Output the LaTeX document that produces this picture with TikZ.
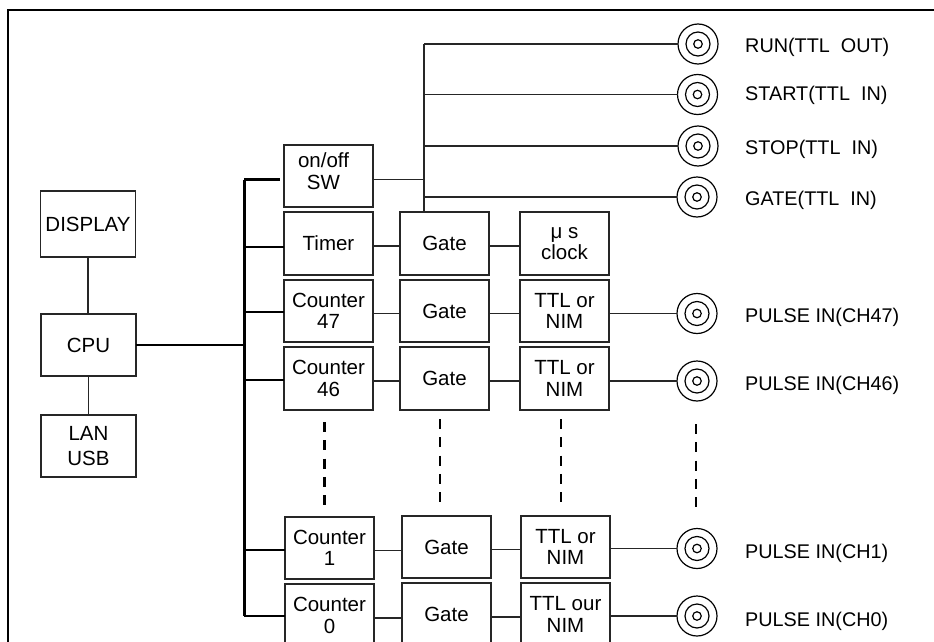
\documentclass[tikz,border=0pt]{standalone}
\usepackage{fontspec}
\setmainfont{Liberation Sans}
\usetikzlibrary{positioning, calc}
\tikzset{
  block/.style={
    rectangle,
    draw=black!85,
    line width=1.2pt,
    align=center,
    minimum width=89pt,
    minimum height=63pt,
    inner sep=0pt,
    outer sep=0pt,
    font=\fontsize{20.5}{21.5}\selectfont
  },
  hostblock/.style={block, minimum width=95pt},
  jackring/.style={circle, draw=black, line width=1.2pt, inner sep=0pt, outer sep=0pt},
  jack/.style={jackring, minimum size=40pt},
  portlabel/.style={anchor=west, inner sep=0pt, font=\fontsize{19.8}{22}\selectfont},
  wire/.style={draw=black!85, line width=1.4pt},
  busline/.style={draw=black, line width=2.6pt},
  gapline/.style={draw=black, line width=2.8pt, dash pattern=on 10pt off 8.3pt}
}

\begin{document}
\begin{tikzpicture}[x=1pt, y=-1pt]
  \useasboundingbox (0,0) rectangle (934,642);
  \clip (0,0) rectangle (934,642);

  % outer frame
  \coordinate (frameA) at (8,642);
  \coordinate (frameB) at (8,10);
  \coordinate (frameC) at (934,10);
  \draw[line width=2.4pt] (frameA) -- (frameB) -- (frameC);

  % host side
  \node[hostblock, minimum height=66pt] (display) at (88,224) {DISPLAY};
  \node[hostblock, minimum height=62pt] (cpu) at (88.5,345) {CPU};
  \node[hostblock, minimum height=62pt, below=39pt of cpu] (lan) {LAN\\[3pt]USB};

  % first row and the columns
  \node[block, minimum height=62pt] (onoff) at (328.5,176) {on/off\hspace*{10pt}\\SW\hspace*{10pt}\mbox{}\\[-12pt]};
  \node[block, below=5pt of onoff] (timer) {Timer};
  \node[block, minimum height=62pt, below=5pt of timer] (cnt47) {Counter\\47};
  \node[block, below=5pt of cnt47] (cnt46) {Counter\\46};
  \node[block, minimum height=62pt, below=107pt of cnt46, xshift=1pt] (cnt1) {Counter\\1};
  \node[block, below=5pt of cnt1] (cnt0) {Counter\\0};

  \node[block, right=27pt of timer] (gateT) {Gate};
  \node[block, minimum height=62pt, right=27pt of cnt47] (gate47) {Gate};
  \node[block, right=27pt of cnt46] (gate46) {Gate};
  \node[block, minimum height=62pt, right=28pt of cnt1, yshift=1pt] (gate1) {Gate};
  \node[block, right=28pt of cnt0, yshift=1pt] (gate0) {Gate};

  \node[block, right=31pt of gateT] (clock) {μ s\\clock};
  \node[block, minimum height=62pt, right=31pt of gate47] (ttl47) {TTL or\\NIM};
  \node[block, right=31pt of gate46] (ttl46) {TTL or\\NIM};
  \node[block, minimum height=62pt, right=30pt of gate1] (ttl1) {TTL or\\NIM};
  \node[block, right=30pt of gate0] (ttl0) {TTL our\\NIM};

  % connectors
  \node[jack] (jackRun) at (698,44) {};
  \node[jack] (jackStart) at (697.5,94.5) {};
  \node[jack] (jackStop) at (698,146) {};
  \node[jack] (jackGate) at (697,197) {};
  \node[jack] (jack47) at (697,313.5) {};
  \node[jack] (jack46) at (697,381) {};
  \node[jack] (jack1) at (697,548.5) {};
  \node[jack] (jack0) at (697,616) {};
  \foreach \j in {jackRun,jackStart,jackStop,jackGate,jack47,jack46,jack1,jack0} {
    \node[jackring, minimum size=24pt] (\j mid) at (\j) {};
    \node[jackring, minimum size=8.5pt] (\j core) at (\j) {};
  }

  \node[portlabel] (lblRun) at (745,47.5) {RUN(TTL\ \ OUT)};
  \node[portlabel] (lblStart) at (745,95.5) {START(TTL\ \ IN)};
  \node[portlabel] (lblStop) at (745,149.5) {STOP(TTL\ \ IN)};
  \node[portlabel] (lblGate) at (745,200.5) {GATE(TTL\ \ IN)};
  \node[portlabel] (lbl47) at (745,317.5) {PULSE IN(CH47)};
  \node[portlabel] (lbl46) at (745,385.5) {PULSE IN(CH46)};
  \node[portlabel] (lbl1) at (745,553.5) {PULSE IN(CH1)};
  \node[portlabel] (lbl0) at (745,621.5) {PULSE IN(CH0)};

  % host links
  \draw[wire] (display) -- (display |- cpu.north);
  \draw[wire] (cpu.south) -- (lan);

  % bus
  \coordinate (busTop) at (244,179.5);
  \coordinate (busEnd) at (244,616);
  \draw[busline, line width=3pt] (busTop) -- (busEnd);
  \draw[busline] (cpu.east) -- (cpu.east -| busTop);
  \draw[busline] (busTop) -- ++(36,0);
  \foreach \c/\s in {timer/3.5,cnt47/1,cnt46/1.5,cnt1/2,cnt0/0.5}
    \draw[busline] ([yshift=-\s pt]\c.west) -- ([yshift=-\s pt]\c.west -| busTop);

  % row links
  \foreach \a/\b in {timer/gateT,cnt47/gate47,cnt46/gate46,cnt1/gate1,cnt0/gate0,
                     gateT/clock,gate47/ttl47,gate46/ttl46,gate1/ttl1,gate0/ttl0}
    \draw[wire] ([yshift=-2.5pt]\a.east) -- ([yshift=-2.5pt]\a.east -| \b.west);
  \foreach \t/\j in {ttl47/jack47,ttl46/jack46,ttl1/jack1,ttl0/jack0}
    \draw[wire] (\j.west -| \t.east) -- (\j.west);

  % control lines
  \coordinate (riser) at ($(gateT.north)+(-20.5,0)$);
  \draw[wire] (riser) -- (riser |- jackRun);
  \draw[wire] (onoff.east |- busTop) -- (riser |- busTop);
  \foreach \j in {jackRun,jackStart,jackStop,jackGate}
    \draw[wire] (riser |- \j) -- (\j.west);

  % omitted channels
  \coordinate (dotsA) at (324.5,422);
  \coordinate (dotsB) at (440,419);
  \coordinate (dotsC) at (561,419);
  \coordinate (dotsD) at (696,424);
  \foreach \d in {dotsA,dotsB,dotsC,dotsD}
    \draw[gapline] (\d) -- ++(0,84);
\end{tikzpicture}
\end{document}
